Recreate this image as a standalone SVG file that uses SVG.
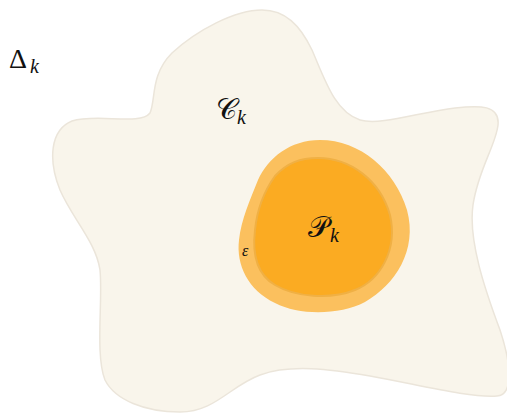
<svg xmlns="http://www.w3.org/2000/svg" width="507" height="413" viewBox="0 0 507 413">
<style>
.m{font-family:"Liberation Serif","DejaVu Serif",serif;fill:#111}
.i{font-style:italic}
.cal{font-family:"DejaVu Serif","DejaVu Sans","Noto Sans",serif;fill:#111;font-size:29px}
</style>
<rect width="507" height="413" fill="#ffffff"/>
<g id="C">
<path d="M262,10 C285,10 300,25 312,50 C325,80 335,112 360,120 C380,126 420,112 455,108 C480,105 500,105 498,125 C496,145 478,170 473,205 C468,240 485,290 500,330 C510,360 515,395 497,396 C470,398 420,385 370,376 C330,369 290,364 260,375 C230,386 215,412 180,412 C145,412 115,400 105,380 C95,355 103,300 100,270 C96,242 72,218 60,190 C48,160 50,130 72,121 C97,113 140,126 150,113 C156,100 150,75 172,53 C197,30 235,10 262,10 Z" fill="#f9f5eb" stroke="#ebe5da" stroke-width="1.5"/>
<text class="cal" x="216" y="119">𝒞</text>
<text class="m i" x="237" y="124" font-size="20">k</text>
</g>
<g id="P">
<path d="M320,140 C360,140 395,170 407,210 C418,250 395,285 365,302 C340,315 300,316 275,303 C248,290 236,265 239,240 C241,220 250,200 258,180 C268,158 290,140 320,140 Z" fill="#fbc05e"/>
<path d="M318,158 C350,158 380,180 390,215 C398,250 380,280 355,290 C330,300 295,297 275,285 C258,275 252,255 255,230 C257,210 265,190 275,176 C287,163 300,158 318,158 Z" fill="#fbab22" stroke="#f0b044" stroke-width="2"/>
<text class="cal" x="308" y="237">𝒫</text>
<text class="m i" x="330" y="242" font-size="20">k</text>
<text class="m i" x="242" y="256" font-size="16">ε</text>
</g>
<g id="D">
<text class="m" x="9" y="68" font-size="28">Δ</text>
<text class="m i" x="30" y="73" font-size="20">k</text>
</g>
</svg>
